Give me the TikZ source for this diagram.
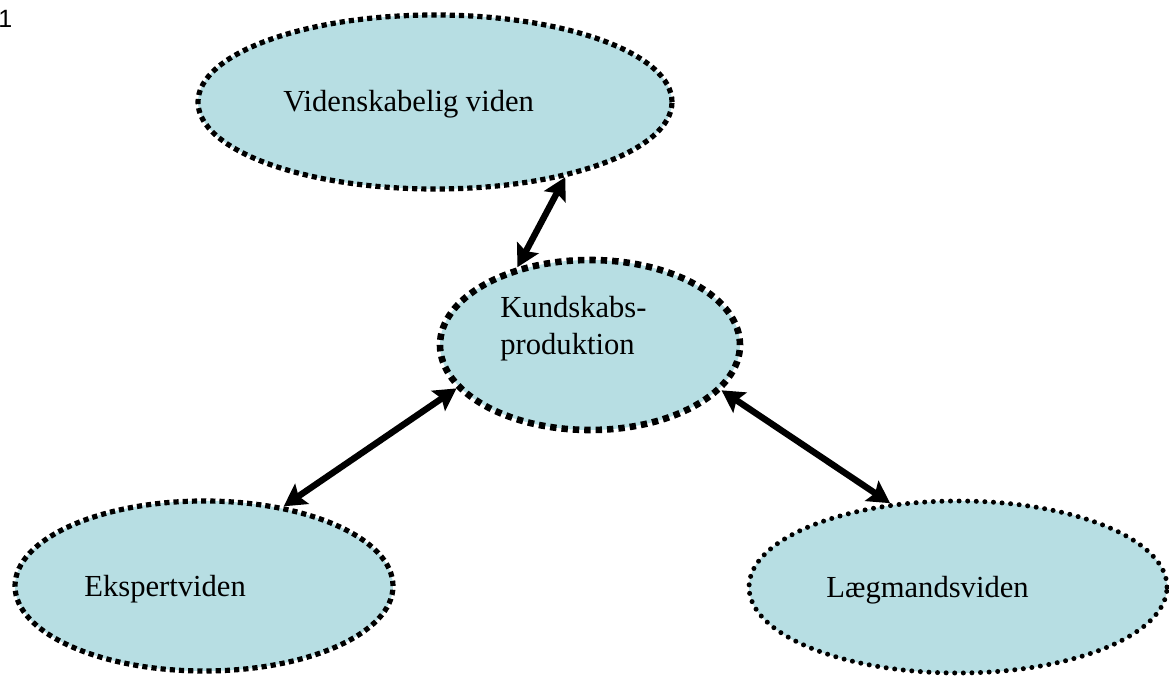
\documentclass[tikz,border=0pt]{standalone}
\usepackage{fontspec}
\setmainfont{Liberation Serif}
\newfontfamily\numfont{Liberation Sans}
\usetikzlibrary{shapes.geometric,arrows.meta}
\definecolor{bubble}{RGB}{183,222,227}
\begin{document}
\begin{tikzpicture}[x=0.5pt,y=-0.5pt,%像素坐标, y 轴向下
  blob/.style={ellipse,fill=bubble,draw=black,inner sep=0pt},
  sqdots/.style={line width=2.6pt,dash pattern=on 2.6pt off 2pt},
  bigdots/.style={line width=3.3pt,dash pattern=on 3.2pt off 2.5pt},
  rounddots/.style={line width=2.5pt,line cap=round,dash pattern=on 0pt off 4.3pt},
  txt/.style={font=\fontsize{15.3}{18.5}\selectfont,inner sep=0pt,anchor=base west,align=left},
  link/.style={line width=3.2pt,{Stealth[length=11pt,width=12pt,inset=2pt]}-{Stealth[length=11pt,width=12pt,inset=2pt]}}]
\useasboundingbox (0,0) rectangle (1169,678);
\node[font=\numfont\fontsize{12.5}{15}\selectfont,inner sep=0pt,anchor=base west] (nr) at (-2,28) {1};
%四个椭圆
\node[blob,sqdots,minimum width=237pt,minimum height=87pt] (viden) at (435,102) {};
\node[blob,bigdots,minimum width=150pt,minimum height=85pt] (kund) at (590,345) {};
\node[blob,sqdots,minimum width=189pt,minimum height=85pt] (ekspert) at (204,586) {};
\node[blob,rounddots,minimum width=209pt,minimum height=86pt] (laeg) at (958,587) {};
%文字 (多行时 base 在最后一行)
\node[txt] (viden-t) at (283,112) {Videnskabelig viden};
\node[txt] (kund-t) at (500,355) {Kundskabs-\\produktion};
\node[txt] (ekspert-t) at (84,597) {Ekspertviden};
\node[txt] (laeg-t) at (826,598) {Lægmandsviden};
%双向箭头
\draw[link] (kund.133) -- (viden.-30);
\draw[link] (kund.-162) -- (ekspert.45);
\draw[link] (kund.-19) -- (laeg.129);
\end{tikzpicture}
\end{document}
